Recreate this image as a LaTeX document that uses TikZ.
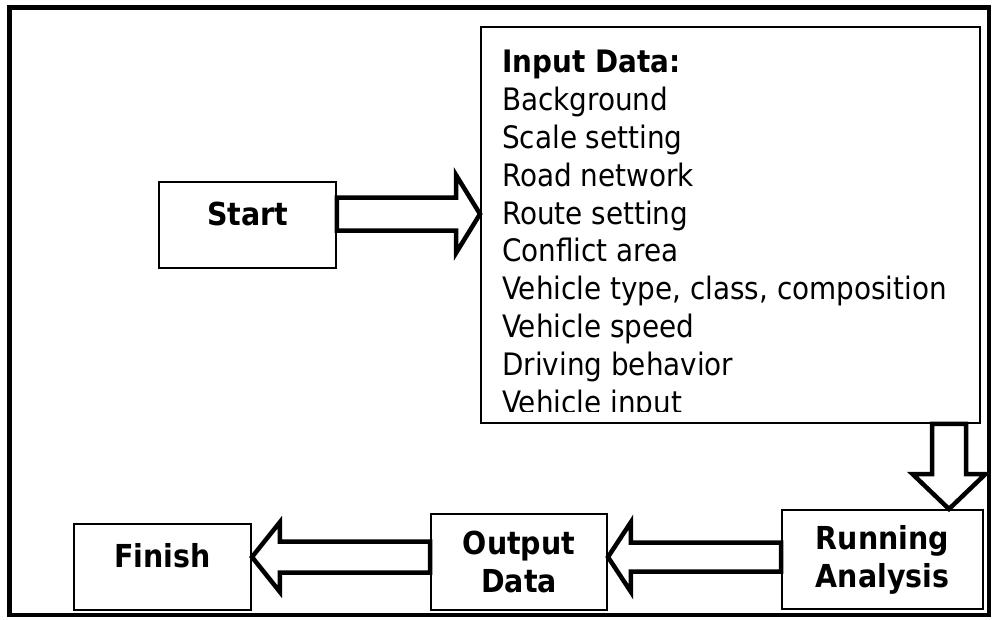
\documentclass[tikz,border=0pt]{standalone}
\usepackage{fontspec}
\setmainfont{DejaVu Sans Condensed}
\usetikzlibrary{calc}
\newcommand{\px}[1]{#1*0.025cm}

\tikzset{
    stepbox/.style={draw, line width=1.4pt, fill=white, align=center, inner sep=0pt,
        font=\bfseries\fontsize{22.5}{27}\selectfont},
    onebox/.style={stepbox, text height=2.2ex, text depth=2.2ex},
    blockarrow/.style n args={3}{draw, line width=3.2pt, fill=white, to path={
        ($(\tikztostart)!#1!90:(\tikztotarget)$)
        -- ($(\tikztotarget)!#3!(\tikztostart)!#1!-90:(\tikztostart)$)
        -- ($(\tikztotarget)!#3!(\tikztostart)!#2!-90:(\tikztostart)$)
        -- (\tikztotarget)
        -- ($(\tikztotarget)!#3!(\tikztostart)!#2!90:(\tikztostart)$)
        -- ($(\tikztotarget)!#3!(\tikztostart)!#1!90:(\tikztostart)$)
        -- ($(\tikztostart)!#1!-90:(\tikztotarget)$)
        -- cycle}}
}

\begin{document}
\begin{tikzpicture}[x=0.025cm, y=-0.025cm]
    \useasboundingbox (0,0) rectangle (996,620);
    %% Frame
    \draw[line width=3.5pt] (9.5,7.5) rectangle (989,615);

    %% Boxes
    \node[onebox, minimum width=\px{177}, minimum height=\px{86}] (start) at (247.5,225) {Start};
    \node[stepbox, minimum width=\px{499}, minimum height=\px{396}] (input) at (730.5,225) {};
    \node[stepbox, minimum width=\px{201}, minimum height=\px{99}] (running) at (882.5,559.5) {Running\\Analysis};
    \node[stepbox, minimum width=\px{176}, minimum height=\px{96}] (output) at (519,562) {Output\\Data};
    \node[onebox, minimum width=\px{177}, minimum height=\px{86}] (finish) at (162.5,567) {Finish};

    % list, cut at the bottom
    \begin{scope}
        \clip (input.north west) rectangle (980,411);
        \node[anchor=north west, align=left, inner sep=0pt,
            font=\fontsize{22}{26.9}\selectfont] (inlist) at (502,50)
            {\textbf{Input Data:}\\Background\\Scale setting\\Road network\\Route setting\\
             Conflict area\\Vehicle type, class, composition\\Vehicle speed\\
             Driving behavior\\Vehicle input};
    \end{scope}

    %% Block arrows
    \coordinate (toprow) at (0,214);
    \coordinate (lowrow) at (0,557);
    \coordinate (downcol) at (949,0);
    \draw[blockarrow={\px{16.5}}{\px{39}}{\px{24}}] (start.east |- toprow) to (input.west |- toprow);
    \draw[blockarrow={\px{17}}{\px{36.5}}{\px{35}}] (input.south -| downcol) to (running.north -| downcol);
    \draw[blockarrow={\px{14.5}}{\px{35}}{\px{23}}] (running.west |- lowrow) to (output.east |- lowrow);
    \draw[blockarrow={\px{15.5}}{\px{35}}{\px{28}}] (output.west |- lowrow) to (finish.east |- lowrow);
\end{tikzpicture}
\end{document}
